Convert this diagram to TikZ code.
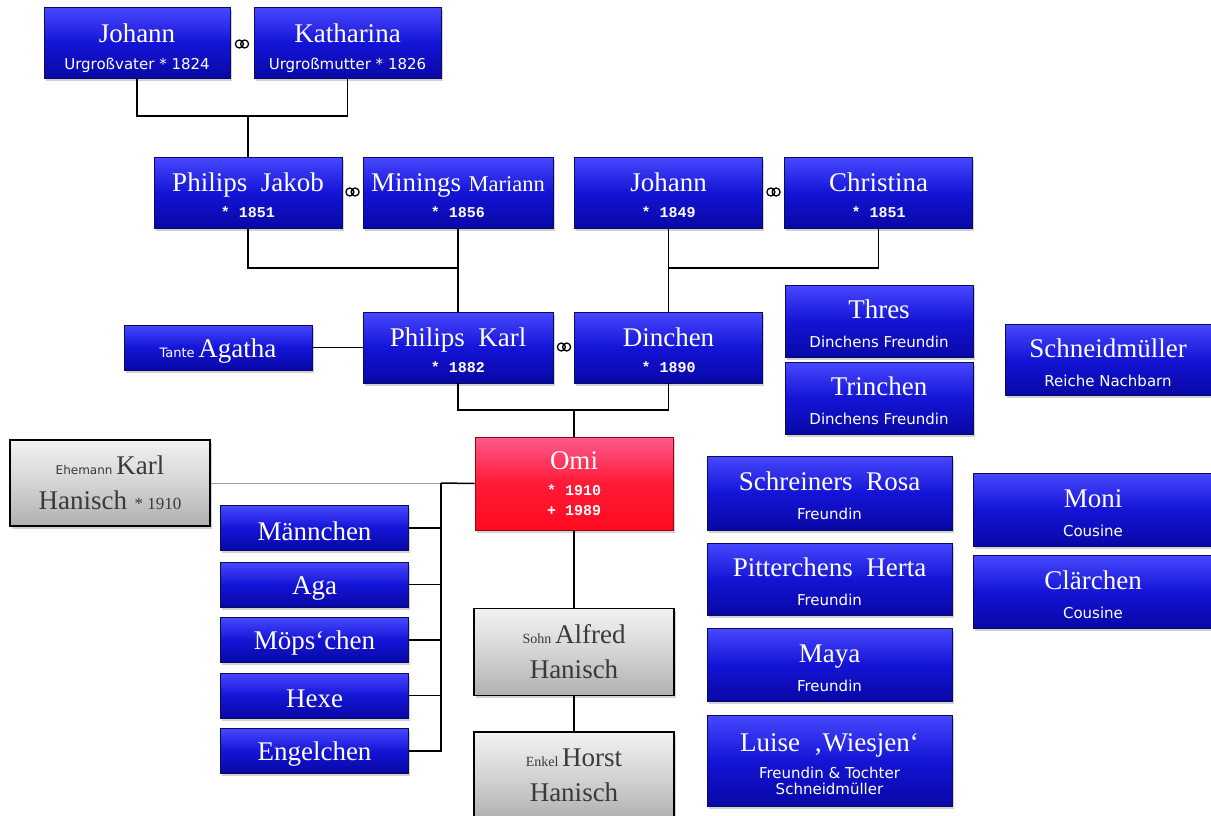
\documentclass[tikz,border=0pt]{standalone}
\usepackage{fontspec}
\setmainfont{Liberation Serif}
\newfontfamily\subfont{DejaVu Sans}
\newfontfamily\yearfont{Liberation Mono}
\usetikzlibrary{shadows}
\definecolor{boxtop}{HTML}{4848FF}
\definecolor{boxmid}{HTML}{1414D6}
\definecolor{boxbot}{HTML}{0808A6}
\definecolor{boxline}{HTML}{0A0A60}
\definecolor{omitop}{HTML}{FF5A8C}
\definecolor{omibot}{HTML}{FF0A20}
\definecolor{greytop}{HTML}{F2F2F2}
\definecolor{greybot}{HTML}{B0B0B0}
\definecolor{greytext}{HTML}{3A3A3A}
\newcommand\nm[1]{{\fontsize{27}{26}\selectfont #1}}
\newcommand\nms[1]{{\fontsize{27}{26}\selectfont\rule{0pt}{25pt}#1}}
\newcommand\nmsm[1]{{\fontsize{22.5}{26}\selectfont #1}}
\newcommand\sub[1]{{\subfont\fontsize{15}{26}\selectfont #1}}
\newcommand\yr[1]{{\yearfont\bfseries\fontsize{15}{26}\selectfont #1}}
\newcommand\tag[1]{{\fontsize{14}{26}\selectfont #1}}

\begin{document}
\begin{tikzpicture}[x=1pt,y=-1pt,
  pbox/.style={draw=boxline,line width=.6pt,top color=boxtop,bottom color=boxbot,middle color=boxmid,text=white,align=center,inner sep=0pt,
    minimum width=188pt,minimum height=71pt,font=\fontsize{15}{26}\selectfont,drop shadow={opacity=.35,shadow xshift=1.5pt,shadow yshift=-2.5pt}},
  pboxlow/.style={pbox,minimum height=45pt},
  omibox/.style={pbox,draw=omibot!60!black,top color=omitop,bottom color=omibot,middle color=omibot!80!omitop},
  greybox/.style={pbox,draw=black,line width=1.2pt,top color=greytop,bottom color=greybot,middle color=greytop!55!greybot,text=greytext},
  link/.style={draw=black,line width=1.5pt},
  greylink/.style={draw=gray!75,line width=.8pt},
  wedring/.style={minimum width=16pt,minimum height=12pt,inner sep=0pt,path picture={
    \draw[line width=1.3pt] ([xshift=-2.6pt]path picture bounding box.center) circle[radius=4pt]
      ([xshift=2.6pt]path picture bounding box.center) circle[radius=4pt];}}]
\useasboundingbox (0,0) rectangle (1211,815);
\clip (0,0) rectangle (1211,815);
\fill[white] (0,0) rectangle (1211,815);
% great-grandparents
\node[pbox,minimum width=186pt] (jo) at (137,43) {\nm{\rule{0pt}{29.5pt}Johann}\\[1pt]\sub{Urgroßvater * 1824}};
\node[pbox,minimum width=187pt] (ka) at (347.5,43) {\nm{\rule{0pt}{29.5pt}Katharina}\\[1pt]\sub{Urgroßmutter * 1826}};
\node[wedring] (r1) at (242,44) {};
% grandparents
\node[pbox] (pj) at (248,192.5) {\nms{Philips\ \ Jakob}\\\yr{* 1851}};
\node[pbox,minimum width=190pt] (mm) at (458,192.5) {\nms{Minings}\ \ \nmsm{Mariann}\\\yr{* 1856}};
\node[wedring] (r2) at (352.5,192) {};
\node[pbox] (jh) at (668.5,192.5) {\nms{Johann}\\\yr{* 1849}};
\node[pbox] (ch) at (878.5,192.5) {\nms{Christina}\\\yr{* 1851}};
\node[wedring] (r3) at (773.5,192) {};
% parents
\node[pbox,minimum width=190pt] (pk) at (458,347.5) {\nms{Philips\ \ Karl}\\\yr{* 1882}};
\node[pbox] (di) at (668.5,347.5) {\nms{Dinchen}\\\yr{* 1890}};
\node[wedring] (r4) at (564,347) {};
\node[pboxlow] (ag) at (218,347.5) {\sub{\fontsize{13}{26}\selectfont Tante} \nms{Agatha}};
% Omi and family
\node[omibox,minimum width=198pt,minimum height=93pt] (omi) at (574,483.5) {\nm{Omi}\\\yr{* 1910}\\[-6pt]\yr{+ 1989}};
\node[greybox,minimum width=200pt,minimum height=86pt] (kh) at (110,483) {\sub{\fontsize{12}{26}\selectfont Ehemann} \nm{Karl}\\[9pt]\nm{Hanisch}\ \ {\fontsize{17}{26}\selectfont * 1910}};
\node[greybox,minimum width=200pt,minimum height=87pt] (al) at (574,652) {\tag{Sohn} \nm{Alfred}\\[9pt]\nm{Hanisch}};
\node[greybox,minimum width=200pt,minimum height=87pt] (ho) at (574,775.5) {\tag{Enkel} \nm{Horst}\\[9pt]\nm{Hanisch}};
\foreach \nme/\yy [count=\i] in {Männchen/528,Aga/584.5,Möps‘chen/640,Hexe/695.5,Engelchen/751}
  \node[pboxlow] (c\i) at (314.5,\yy) {\nms{\nme}};
% friends and neighbours
\node[pbox,minimum height=72pt] (th) at (879,321) {\nms{Thres}\\[3pt]\sub{Dinchens Freundin}};
\node[pbox,minimum height=72pt] (tr) at (879,398) {\nms{Trinchen}\\[3pt]\sub{Dinchens Freundin}};
\node[pbox,minimum width=206pt] (sm) at (1108,359.5) {\nms{Schneidmüller}\\[3pt]\sub{Reiche Nachbarn}};
\node[pbox,minimum width=245pt,minimum height=74pt] (ro) at (829.5,493) {\nms{Schreiners\ \ Rosa}\\[3pt]\sub{Freundin}};
\node[pbox,minimum width=245pt,minimum height=72pt] (pi) at (829.5,579) {\nms{Pitterchens\ \ Herta}\\[3pt]\sub{Freundin}};
\node[pbox,minimum width=245pt,minimum height=73pt] (ma) at (829.5,664.5) {\nms{Maya}\\[3pt]\sub{Freundin}};
\node[pbox,minimum width=245pt,minimum height=91pt] (lu) at (829.5,760.5) {\nms{Luise\ \ ‚Wiesjen‘}\\[1pt]\sub{Freundin \& Tochter}\\[-10pt]\sub{Schneidmüller}};
\node[pbox,minimum width=240pt,minimum height=73pt] (mo) at (1093,509.5) {\nms{Moni}\\[3pt]\sub{Cousine}};
\node[pbox,minimum width=240pt,minimum height=73pt] (cl) at (1093,591.5) {\nms{Clärchen}\\[3pt]\sub{Cousine}};
% connectors
\coordinate (m1) at (248,116); \draw[link] (jo.south) |- (m1) -| (ka.south); \draw[link] (m1) -- (pj.north);
\coordinate (m2) at (458,268); \draw[link] (pj.south) |- (m2); \draw[link] (mm.south) -- (pk.north);
\coordinate (m3) at (668.5,268); \draw[link] (ch.south) |- (m3); \draw[link] (jh.south) -- (di.north);
\draw[link] (ag.east) -- (pk.west);
\coordinate (m4) at (574,410); \draw[link] (pk.south) |- (m4) -| (di.south); \draw[link] (m4) -- (omi.north);
\coordinate (b0) at (441,483);
\draw[greylink] (kh.east) -- (b0); \draw[link] (b0) -- (omi.west); \draw[link] (b0) |- (c5.east);
\foreach \i in {1,...,4} \draw[link] (c\i.east) -- (c\i.east -| b0);
\draw[link] (omi.south) -- (al.north); \draw[link] (al.south) -- (ho.north);
\end{tikzpicture}
\end{document}
